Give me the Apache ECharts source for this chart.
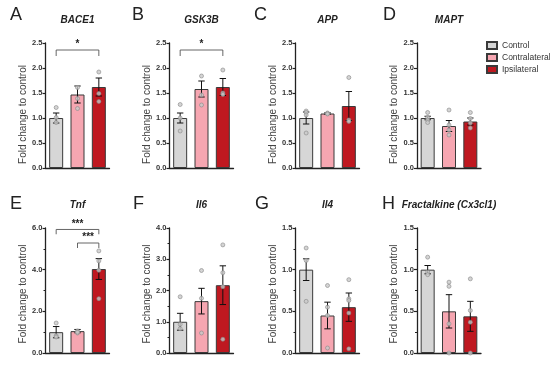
<!DOCTYPE html>
<html>
<head>
<meta charset="utf-8">
<script src="https://cdn.jsdelivr.net/npm/echarts@6/dist/echarts.min.js"></script>
<style>
html,body{margin:0;padding:0;background:#fff;}
#chart{width:550px;height:366px;}
</style>
</head>
<body>
<div id="chart"></div>
<script>
// ---------- DATA ----------
const categories = ['Control', 'Contralateral', 'Ipsilateral'];
const panelLetters = ['A', 'B', 'C', 'D', 'E', 'F', 'G', 'H'];
const geneTitles = ['BACE1', 'GSK3B', 'APP', 'MAPT', 'Tnf', 'Il6', 'Il4', 'Fractalkine (Cx3cl1)'];
const yAxisName = 'Fold change to control';
const yMaxValues = [2.5, 2.5, 2.5, 2.5, 6, 4, 1.5, 1.5];
const yIntervals = [0.5, 0.5, 0.5, 0.5, 2, 1, 0.5, 0.5];

const bace1Mean = [1.0, 1.47, 1.62];
const bace1Sem = [0.1, 0.17, 0.18];
const bace1Points = [[1.21, 1.01, 0.91], [1.61, 1.39, 1.19], [1.92, 1.49, 1.33]];

const gsk3bMean = [1.0, 1.58, 1.62];
const gsk3bSem = [0.1, 0.16, 0.17];
const gsk3bPoints = [[1.27, 1.0, 0.74], [1.84, 1.46, 1.26], [1.96, 1.5, 1.47]];

const appMean = [1.0, 1.09, 1.24];
const appSem = [0.12, 0.015, 0.29];
const appPoints = [[1.14, 1.11, 1.06, 0.7], [1.09, 1.1, 1.08], [1.81, 0.96, 0.93]];

const maptMean = [1.0, 0.84, 0.93];
const maptSem = [0.035, 0.11, 0.07];
const maptPoints = [[1.11, 1.01, 0.96, 0.91], [1.16, 0.86, 0.76, 0.66], [1.11, 0.99, 0.9, 0.8]];

const tnfMean = [1.0, 1.05, 4.03];
const tnfSem = [0.27, 0.08, 0.5];
const tnfPoints = [[1.44, 0.83, 0.77], [1.06, 0.96, 1.0], [4.9, 4.42, 3.97, 2.61]];

const il6Mean = [1.0, 1.66, 2.17];
const il6Sem = [0.27, 0.41, 0.62];
const il6Points = [[1.8, 0.92, 0.78], [2.64, 1.75, 0.64], [3.46, 2.57, 2.12, 0.44]];

const il4Mean = [1.0, 0.45, 0.55];
const il4Sem = [0.13, 0.16, 0.17];
const il4Points = [[1.26, 1.11, 0.62], [0.81, 0.55, 0.45, 0.06], [0.88, 0.65, 0.63, 0.48, 0.05]];

const cx3cl1Mean = [1.0, 0.5, 0.44];
const cx3cl1Sem = [0.05, 0.2, 0.18];
const cx3cl1Points = [[1.15, 0.97, 0.94], [0.85, 0.8, 0.35, 0.0], [0.89, 0.51, 0.37, 0.0]];

// significance brackets: [fromCategory, toCategory, barY, legY, label]
const bace1Sig = [[0, 2, 2.36, 2.24, '*']];
const gsk3bSig = [[0, 2, 2.36, 2.24, '*']];
const tnfSig = [[0, 2, 5.93, 5.7, '***'], [1, 2, 5.28, 5.04, '***']];

const panelMeans = [bace1Mean, gsk3bMean, appMean, maptMean, tnfMean, il6Mean, il4Mean, cx3cl1Mean];
const panelSems = [bace1Sem, gsk3bSem, appSem, maptSem, tnfSem, il6Sem, il4Sem, cx3cl1Sem];
const panelPoints = [bace1Points, gsk3bPoints, appPoints, maptPoints, tnfPoints, il6Points, il4Points, cx3cl1Points];
const panelSig = [bace1Sig, gsk3bSig, [], [], tnfSig, [], [], []];

// ---------- LAYOUT / STYLE ----------
const colLefts = [45.5, 169.5, 295.5, 417];
const rowTops = [43, 228];
const gridW = 64, gridH = 125;
const barColors = ['#d6d6d6', '#f6a6b1', '#bf1820'];
const letterX = [[10, 132, 254, 383], [10, 133, 255, 382]];
const namePad = [[0, 18, 0, 0], [0, 7, 0, 0]];
const FONT = 'Liberation Sans, Arial, sans-serif';

const chart = echarts.init(document.getElementById('chart'), null, {renderer: 'canvas'});

const grids = [], xAxes = [], yAxes = [], series = [], graphics = [];

for (let p = 0; p < 8; p++) {
  const row = Math.floor(p / 4), col = p % 4;
  const left = colLefts[col], top = rowTops[row];
  grids.push({left: left, top: top, width: gridW, height: gridH, containLabel: false});
  xAxes.push({
    type: 'category', gridIndex: p, data: categories,
    axisLine: {show: true, lineStyle: {color: '#222', width: 1.3}},
    axisTick: {show: false}, axisLabel: {show: false}, splitLine: {show: false}
  });
  const minor = p >= 4;
  yAxes.push({
    type: 'value', gridIndex: p, min: 0, max: yMaxValues[p], interval: yIntervals[p],
    name: yAxisName, nameLocation: 'middle', nameGap: 17,
    nameTextStyle: {fontSize: 10, color: '#444', fontFamily: FONT, padding: namePad[row]},
    axisLine: {show: true, lineStyle: {color: '#222', width: 1.3}},
    axisTick: {show: true, length: 3, lineStyle: {color: '#222', width: 1.2}},
    minorTick: {show: minor, splitNumber: 2, length: 2, lineStyle: {color: '#222', width: 1}},
    axisLabel: {fontSize: 7.5, fontWeight: 'bold', color: '#333', margin: 3, fontFamily: FONT,
      formatter: v => v.toFixed(1)},
    splitLine: {show: false}
  });

  const means = panelMeans[p];
  for (let c = 0; c < 3; c++) {
    const d = categories.map((_, i) => i === c ? means[i] : '-');
    series.push({
      name: categories[c], type: 'bar', xAxisIndex: p, yAxisIndex: p,
      data: d, barWidth: 14, barGap: '-100%', z: 2,
      itemStyle: {color: barColors[c], borderColor: '#3a3a3a', borderWidth: 1},
      emphasis: {disabled: true}, animation: false
    });
  }
  const sems = panelSems[p];
  series.push({
    type: 'custom', xAxisIndex: p, yAxisIndex: p, z: 4, animation: false, silent: true,
    data: means.map((m, i) => [i, m, sems[i]]),
    renderItem: function (params, api) {
      const x = api.value(0), m = api.value(1), s = api.value(2);
      const hi = api.coord([x, m + s]), lo = api.coord([x, m - s]);
      const cap = 3.2;
      const st = {stroke: '#111', lineWidth: 1, fill: null};
      return {type: 'group', children: [
        {type: 'line', shape: {x1: hi[0], y1: hi[1], x2: lo[0], y2: lo[1]}, style: st},
        {type: 'line', shape: {x1: hi[0] - cap, y1: hi[1], x2: hi[0] + cap, y2: hi[1]}, style: st},
        {type: 'line', shape: {x1: lo[0] - cap, y1: lo[1], x2: lo[0] + cap, y2: lo[1]}, style: st}
      ]};
    }
  });
  const pts = [];
  panelPoints[p].forEach((arr, i) => arr.forEach(v => pts.push([i, v])));
  series.push({
    type: 'scatter', xAxisIndex: p, yAxisIndex: p, z: 5, animation: false, silent: true,
    data: pts, symbol: 'circle', symbolSize: 4,
    itemStyle: {color: '#c9c9c9', borderColor: '#8a8a8a', borderWidth: 0.8}
  });
  const sig = panelSig[p];
  if (sig.length) {
    series.push({
      type: 'custom', xAxisIndex: p, yAxisIndex: p, z: 6, animation: false, silent: true,
      data: sig.map(s => [s[0], s[1], s[2], s[3]]),
      renderItem: function (params, api) {
        const a = api.value(0), b = api.value(1), yb = api.value(2), yl = api.value(3);
        const p1 = api.coord([a, yl]), p2 = api.coord([a, yb]), p3 = api.coord([b, yb]), p4 = api.coord([b, yl]);
        const label = sig[params.dataIndex][4];
        return {type: 'group', children: [
          {type: 'polyline', shape: {points: [p1, p2, p3, p4]}, style: {stroke: '#555', lineWidth: 0.9, fill: null}},
          {type: 'text', style: {text: label, x: (p2[0] + p3[0]) / 2, y: p2[1] - 0.5,
            textAlign: 'center', textVerticalAlign: 'bottom', fontSize: 10, fontWeight: 'bold',
            fill: '#222', fontFamily: FONT}}
        ]};
      }
    });
  }
  graphics.push({type: 'text', left: letterX[row][col], top: row === 0 ? 6 : 195,
    style: {text: panelLetters[p], fontSize: 18, fill: '#222', fontFamily: FONT}});
  graphics.push({type: 'text', x: left + gridW / 2, y: row === 0 ? 20 : 205,
    style: {text: geneTitles[p], fontSize: 10, fontWeight: 'bold', fontStyle: 'italic',
      fill: '#222', fontFamily: FONT, textAlign: 'center', textVerticalAlign: 'middle'}});
}

chart.setOption({
  animation: false,
  backgroundColor: '#fff',
  grid: grids, xAxis: xAxes, yAxis: yAxes, series: series, graphic: graphics,
  legend: {
    data: categories, orient: 'vertical', left: 486, top: 41, padding: 0,
    itemWidth: 10, itemHeight: 7, itemGap: 3, icon: 'rect',
    textStyle: {fontSize: 8.5, color: '#333', fontFamily: FONT},
    selectedMode: false
  }
});
</script>
</body>
</html>
